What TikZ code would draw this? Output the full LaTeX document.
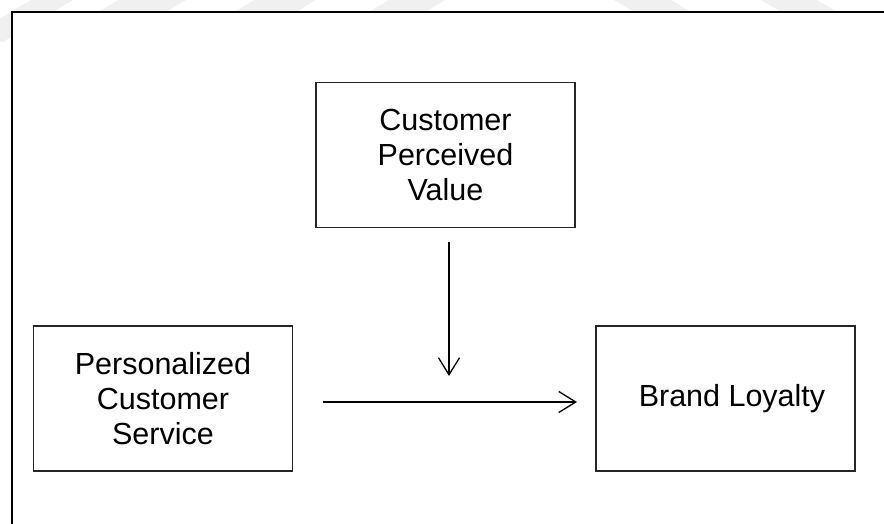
\documentclass[tikz,border=0pt]{standalone}
\usepackage{fontspec}
\setmainfont{Liberation Sans}
\usetikzlibrary{arrows.meta}
\begin{document}
\begin{tikzpicture}[x=1pt,y=-1pt,
  box/.style={draw=black!85,line width=1.4pt,minimum width=259pt,minimum height=145pt,
    inner sep=0pt,align=center,font=\fontsize{30.5}{35}\selectfont},
  conn/.style={line width=1.3pt,-{Straight Barb[length=17pt,width=21pt,line width=1.3pt]}},
  stripe/.style={fill=black!6,draw=none}]
\useasboundingbox (0,0) rectangle (884,524);
% faint watermark stripes
\foreach \a/\b in {31/73,118/186,254/316,389/445}
  \fill[stripe] (\a,0) -- (\b,0) -- (\b-70,42) -- (\a-70,42) -- cycle;
\foreach \a/\b in {614/671,761/817}
  \fill[stripe] (\a,0) -- (\b,0) -- (\b+70,42) -- (\a+70,42) -- cycle;
\fill[white] (12,12) rectangle (884,524);
% frame
\draw[line width=2pt,black] (12,530) -- (12,12) -- (890,12);
% boxes
\node[box] (cpv) at (445.5,155) {Customer\\Perceived\\Value};
\node[box] (pcs) at (163,398.5) {Personalized\\Customer\\Service};
\node[box] (bl) at (725.5,398.5) {\hspace*{13pt}Brand Loyalty};
% connectors
\coordinate (vs) at (449,242);
\coordinate (ve) at (449,376);
\coordinate (hs) at (323,402);
\coordinate (he) at (577,402);
\draw[conn] (vs) -- (ve);
\draw[conn] (hs) -- (he);
\end{tikzpicture}
\end{document}
